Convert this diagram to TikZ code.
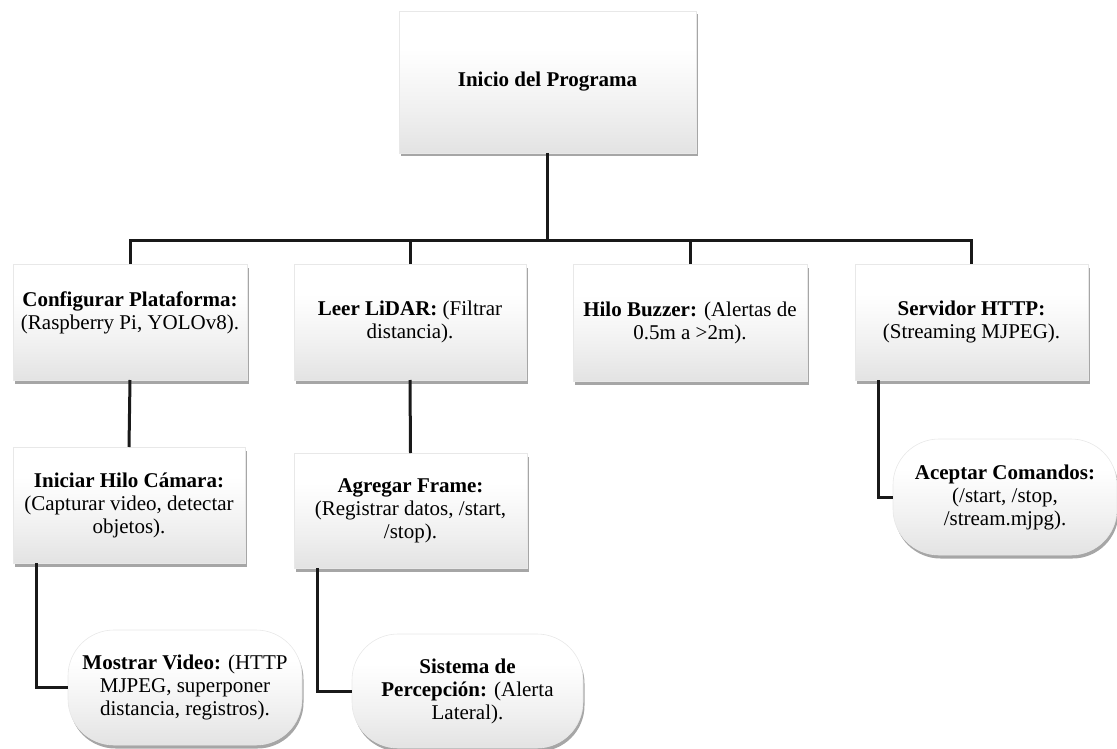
\documentclass[tikz,border=0pt]{standalone}
\usepackage{fontspec}
\setmainfont{Liberation Serif}
\usetikzlibrary{shadows}
\pgfdeclareverticalshading{boxshade}{100bp}{color(0bp)=(black!11); color(25bp)=(black!11); color(40bp)=(black!6); color(54bp)=(black!2); color(62bp)=(white); color(100bp)=(white)}
\tikzset{
  boxbase/.style={draw=black!9, line width=0.6pt, shading=boxshade,
    drop shadow={shadow xshift=1.5pt, shadow yshift=-3.5pt, opacity=0.35, fill=black},
    inner sep=0pt, outer sep=0pt},
  sqbox/.style={boxbase, rectangle},
  rndbox/.style={boxbase, rectangle, rounded corners=46pt},
  txt/.style={align=center, inner sep=0pt, font=\fontsize{21}{23}\selectfont},
  conn/.style={line width=3pt, draw=black!90}
}
\begin{document}
\begin{tikzpicture}[x=1pt,y=-1pt]
\useasboundingbox (0,0) rectangle (1117,749);
% boxes
\node[sqbox, minimum width=297pt, minimum height=142pt] (top) at (547.5,82) {};
\node[sqbox, minimum width=234pt, minimum height=116pt] (conf) at (130,322) {};
\node[sqbox, minimum width=232pt, minimum height=116pt] (lidar) at (410,322) {};
\node[sqbox, minimum width=234pt, minimum height=117pt] (buzz) at (690,322.5) {};
\node[sqbox, minimum width=233pt, minimum height=116pt] (serv) at (971.5,322) {};
\node[sqbox, minimum width=232pt, minimum height=116pt] (inic) at (129,505) {};
\node[sqbox, minimum width=233pt, minimum height=115pt] (agre) at (410.5,510.5) {};
\node[rndbox, minimum width=234pt, minimum height=115pt] (most) at (185,687.5) {};
\node[rndbox, minimum width=231pt, minimum height=114pt] (sist) at (467.5,691) {};
\node[rndbox, minimum width=224pt, minimum height=116pt] (acep) at (1005,497) {};
% texts
\node[txt] (topt) at (top.center) {\textbf{Inicio del Programa}};
\node[txt] (conft) at ([yshift=9pt]conf.center) {\textbf{Configurar Plataforma:}\\(Raspberry Pi, YOLOv8).};
\node[txt] (lidart) at (lidar.center) {\textbf{Leer LiDAR:} (Filtrar\\distancia).};
\node[txt] (buzzt) at (buzz.center) {\textbf{Hilo Buzzer:} (Alertas de\\0.5m a >2m).};
\node[txt] (servt) at (serv.center) {\textbf{Servidor HTTP:}\\(Streaming MJPEG).};
\node[txt] (inict) at (inic.center) {\textbf{Iniciar Hilo Cámara:}\\(Capturar video, detectar\\objetos).};
\node[txt] (agret) at (agre.center) {\textbf{Agregar Frame:}\\(Registrar datos, /start,\\/stop).};
\node[txt] (mostt) at (most.center) {\textbf{Mostrar Video:} (HTTP\\MJPEG, superponer\\distancia, registros).};
\node[txt] (sistt) at (sist.center) {\textbf{Sistema de}\\\textbf{Percepción:} (Alerta\\Lateral).};
\node[txt] (acept) at (acep.center) {\textbf{Aceptar Comandos:}\\(/start, /stop,\\/stream.mjpg).};
% connectors
\coordinate (bus) at (547.5,240);
\draw[conn] (top.south) -- (bus);
\draw[conn] (conf.north) |- (bus) -| (serv.north);
\draw[conn] (lidar.north) -- (lidar.north |- bus);
\draw[conn] (buzz.north) -- (buzz.north |- bus);
\draw[conn] (conf.south) -- (inic.north);
\draw[conn] (lidar.south) -- (agre.north);
\draw[conn] ([xshift=-93pt]inic.south) |- (most.west);
\draw[conn] ([xshift=-93.5pt]agre.south) |- (sist.west);
\draw[conn] ([xshift=-93.5pt]serv.south) |- (acep.west);
\end{tikzpicture}
\end{document}
